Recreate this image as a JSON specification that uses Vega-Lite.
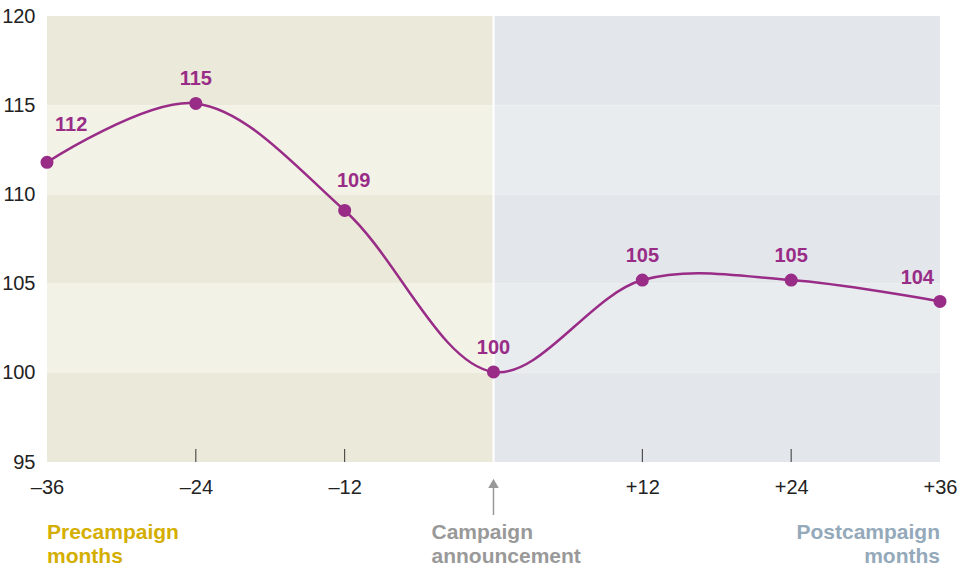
{
  "$schema": "https://vega.github.io/schema/vega-lite/v6.json",
  "width": 893,
  "height": 446,
  "autosize": {"type": "none"},
  "padding": {"left": 47, "top": 16, "right": 18, "bottom": 106},
  "background": "white",
  "config": {
    "view": {"stroke": null},
    "font": "Liberation Sans",
    "axis": {"grid": false, "domain": false, "ticks": false}
  },
  "datasets": {
    "series": [
      {"month": -36, "index": 111.8, "label": "112"},
      {"month": -24, "index": 115.1, "label": "115"},
      {"month": -12, "index": 109.1, "label": "109"},
      {"month": 0, "index": 100.05, "label": "100"},
      {"month": 12, "index": 105.2, "label": "105"},
      {"month": 24, "index": 105.2, "label": "105"},
      {"month": 36, "index": 104.0, "label": "104"}
    ],
    "bands": [
      {"x1": -36, "x2": 0, "y1": 115, "y2": 120, "tone": "pre-dark"},
      {"x1": -36, "x2": 0, "y1": 110, "y2": 115, "tone": "pre-light"},
      {"x1": -36, "x2": 0, "y1": 105, "y2": 110, "tone": "pre-dark"},
      {"x1": -36, "x2": 0, "y1": 100, "y2": 105, "tone": "pre-light"},
      {"x1": -36, "x2": 0, "y1": 95, "y2": 100, "tone": "pre-dark"},
      {"x1": 0, "x2": 36, "y1": 115, "y2": 120, "tone": "post-dark"},
      {"x1": 0, "x2": 36, "y1": 110, "y2": 115, "tone": "post-light"},
      {"x1": 0, "x2": 36, "y1": 105, "y2": 110, "tone": "post-dark"},
      {"x1": 0, "x2": 36, "y1": 100, "y2": 105, "tone": "post-light"},
      {"x1": 0, "x2": 36, "y1": 95, "y2": 100, "tone": "post-dark"}
    ],
    "ticks": [
      {"month": -24, "y1": 95, "y2": 95.73},
      {"month": -12, "y1": 95, "y2": 95.73},
      {"month": 12, "y1": 95, "y2": 95.73},
      {"month": 24, "y1": 95, "y2": 95.73}
    ]
  },
  "layer": [
    {
      "data": {"name": "bands"},
      "mark": {"type": "rect"},
      "encoding": {
        "x": {"field": "x1", "type": "quantitative", "scale": {"domain": [-36, 36], "nice": false, "zero": false},
          "axis": {"values": [-36, -24, -12, 12, 24, 36], "labelExpr": "datum.value < 0 ? '–' + abs(datum.value) : '+' + datum.value", "labelFontSize": 20, "labelColor": "#222222", "labelPadding": 15, "labelFlush": false, "title": null, "orient": "bottom"}},
        "x2": {"field": "x2"},
        "y": {"field": "y1", "type": "quantitative", "scale": {"domain": [95, 120], "nice": false, "zero": false},
          "axis": {"values": [95, 100, 105, 110, 115, 120], "labelFontSize": 20, "labelColor": "#222222", "labelPadding": 12, "title": null, "labelFlush": false}},
        "y2": {"field": "y2"},
        "color": {"field": "tone", "type": "nominal", "legend": null,
          "scale": {"domain": ["pre-dark", "pre-light", "post-dark", "post-light"], "range": ["#ebe9d9", "#f3f2e7", "#e3e7eb", "#e9ecef"]}}
      }
    },
    {
      "data": {"values": [{"month": 0}]},
      "mark": {"type": "rule", "color": "white", "strokeWidth": 2},
      "encoding": {"x": {"field": "month", "type": "quantitative"}}
    },
    {
      "data": {"name": "ticks"},
      "mark": {"type": "rule", "color": "#333333", "strokeWidth": 1},
      "encoding": {
        "x": {"field": "month", "type": "quantitative"},
        "y": {"field": "y1", "type": "quantitative"},
        "y2": {"field": "y2"}
      }
    },
    {
      "data": {"name": "series"},
      "mark": {"type": "line", "interpolate": "catmull-rom", "color": "#982c87", "strokeWidth": 2.5},
      "encoding": {
        "x": {"field": "month", "type": "quantitative"},
        "y": {"field": "index", "type": "quantitative"}
      }
    },
    {
      "data": {"name": "series"},
      "mark": {"type": "point", "filled": true, "opacity": 1, "size": 170, "color": "#982c87"},
      "encoding": {
        "x": {"field": "month", "type": "quantitative"},
        "y": {"field": "index", "type": "quantitative"}
      }
    },
    {
      "data": {"name": "series"},
      "transform": [{"filter": "datum.month == 0 || datum.month == -24 || datum.month == 12 || datum.month == 24"}],
      "mark": {"type": "text", "fontSize": 20, "fontWeight": "bold", "color": "#982c87", "align": "center", "baseline": "middle", "dy": -24},
      "encoding": {
        "x": {"field": "month", "type": "quantitative"},
        "y": {"field": "index", "type": "quantitative"},
        "text": {"field": "label"}
      }
    },
    {
      "data": {"name": "series"},
      "transform": [{"filter": "datum.month == -12"}],
      "mark": {"type": "text", "fontSize": 20, "fontWeight": "bold", "color": "#982c87", "align": "center", "baseline": "middle", "dx": 9, "dy": -29},
      "encoding": {
        "x": {"field": "month", "type": "quantitative"},
        "y": {"field": "index", "type": "quantitative"},
        "text": {"field": "label"}
      }
    },
    {
      "data": {"name": "series"},
      "transform": [{"filter": "datum.month == -36"}],
      "mark": {"type": "text", "fontSize": 20, "fontWeight": "bold", "color": "#982c87", "align": "left", "baseline": "middle", "dx": 8, "dy": -37},
      "encoding": {
        "x": {"field": "month", "type": "quantitative"},
        "y": {"field": "index", "type": "quantitative"},
        "text": {"field": "label"}
      }
    },
    {
      "data": {"name": "series"},
      "transform": [{"filter": "datum.month == 36"}],
      "mark": {"type": "text", "fontSize": 20, "fontWeight": "bold", "color": "#982c87", "align": "right", "baseline": "middle", "dx": -6, "dy": -23},
      "encoding": {
        "x": {"field": "month", "type": "quantitative"},
        "y": {"field": "index", "type": "quantitative"},
        "text": {"field": "label"}
      }
    },
    {
      "data": {"values": [{"month": 0, "y1": 92.03, "y2": 93.6}]},
      "mark": {"type": "rule", "color": "#999999", "strokeWidth": 1.5},
      "encoding": {
        "x": {"field": "month", "type": "quantitative"},
        "y": {"field": "y1", "type": "quantitative"},
        "y2": {"field": "y2"}
      }
    },
    {
      "data": {"values": [{"month": 0, "y": 93.8}]},
      "mark": {"type": "point", "shape": "triangle-up", "filled": true, "opacity": 1, "size": 110, "color": "#999999"},
      "encoding": {
        "x": {"field": "month", "type": "quantitative"},
        "y": {"field": "y", "type": "quantitative"}
      }
    },
    {
      "data": {"values": [{"month": -36, "y": 91.0, "text": ["Precampaign", "months"]}]},
      "mark": {"type": "text", "fontSize": 21, "fontWeight": "bold", "color": "#d4ae00", "align": "left", "baseline": "middle", "lineHeight": 24},
      "encoding": {
        "x": {"field": "month", "type": "quantitative"},
        "y": {"field": "y", "type": "quantitative"},
        "text": {"field": "text"}
      }
    },
    {
      "data": {"values": [{"month": -5, "y": 91.0, "text": ["Campaign", "announcement"]}]},
      "mark": {"type": "text", "fontSize": 21, "fontWeight": "bold", "color": "#999999", "align": "left", "baseline": "middle", "lineHeight": 24},
      "encoding": {
        "x": {"field": "month", "type": "quantitative"},
        "y": {"field": "y", "type": "quantitative"},
        "text": {"field": "text"}
      }
    },
    {
      "data": {"values": [{"month": 36, "y": 91.0, "text": ["Postcampaign", "months"]}]},
      "mark": {"type": "text", "fontSize": 21, "fontWeight": "bold", "color": "#94a9ba", "align": "right", "baseline": "middle", "lineHeight": 24},
      "encoding": {
        "x": {"field": "month", "type": "quantitative"},
        "y": {"field": "y", "type": "quantitative"},
        "text": {"field": "text"}
      }
    }
  ]
}
